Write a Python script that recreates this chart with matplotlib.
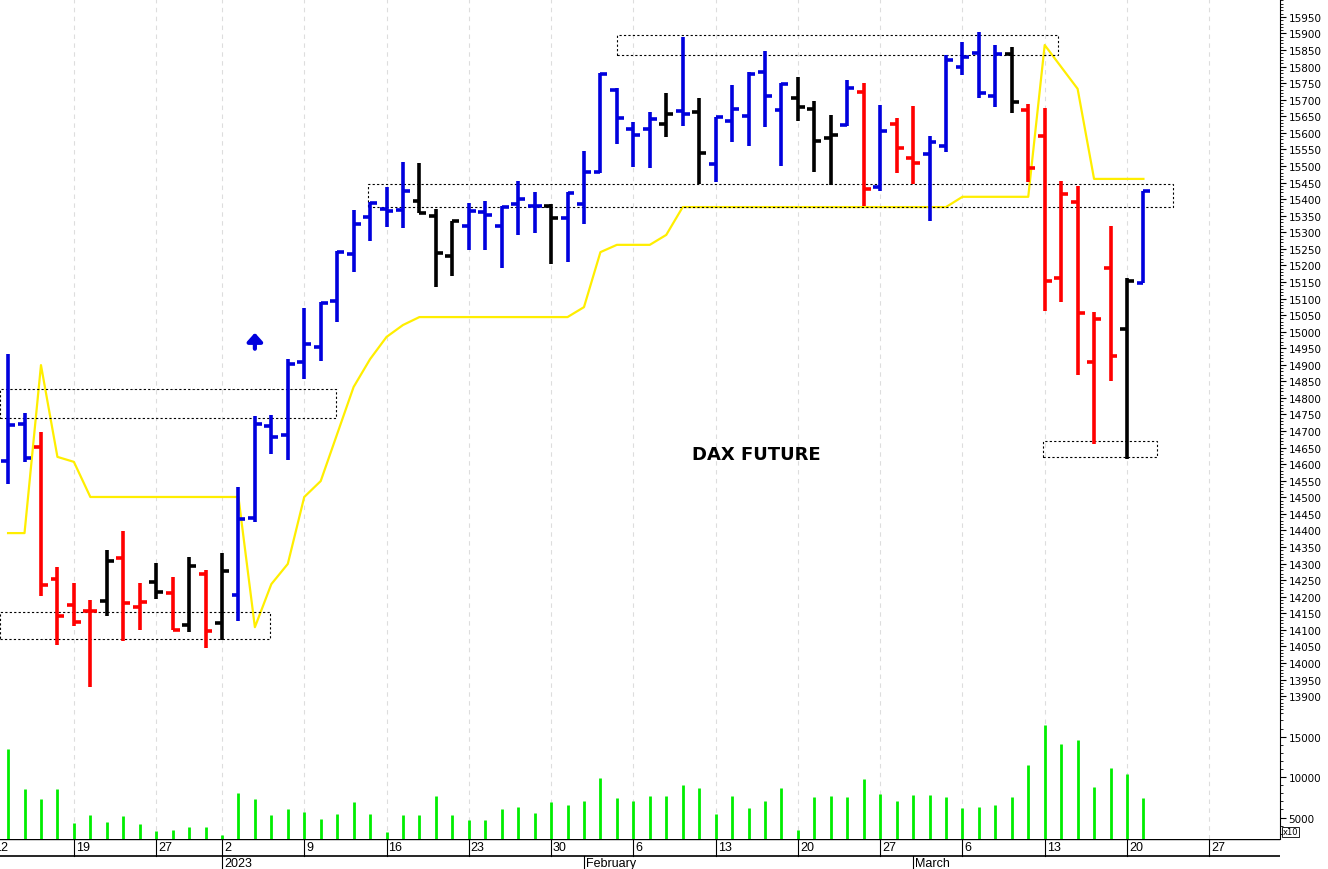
import numpy as np
import matplotlib
matplotlib.use("Agg")
import matplotlib.pyplot as plt
from matplotlib.patches import Rectangle

# daily bars, 13 Dec 2022 .. 21 Mar 2023 (trading-day index 0..69)
opens = [14610, 14721, 14652, 14253, 14175, 14157, 14187, 14317, 14169, 14244,
         14211, 14114, 14269, 14121, 14205, 14437, 14715, 14688, 14908, 14954,
         15093, 15234, 15346, 15370, 15367, 15394, 15349, 15228, 15319, 15361,
         15319, 15385, 15379, 15379, 15343, 15385, 15482, 15730, 15612, 15612,
         15627, 15666, 15663, 15506, 15636, 15651, 15784, 15669, 15705, 15672,
         15585, 15624, 15724, 15437, 15627, 15524, 15536, 15561, 15799, 15841,
         15712, 15838, 15669, 15591, 15162, 15391, 14908, 15192, 15008, 15147]
highs = [14933, 14754, 14697, 14290, 14241, 14190, 14341, 14398, 14241, 14302,
         14259, 14320, 14281, 14332, 14531, 14746, 14748, 14918, 15071, 15089,
         15243, 15367, 15391, 15437, 15512, 15509, 15370, 15334, 15388, 15394,
         15379, 15455, 15422, 15385, 15422, 15545, 15781, 15736, 15633, 15663,
         15721, 15890, 15705, 15648, 15745, 15784, 15847, 15751, 15769, 15696,
         15654, 15760, 15751, 15684, 15645, 15681, 15591, 15835, 15875, 15905,
         15865, 15859, 15687, 15675, 15455, 15440, 15059, 15319, 15162, 15425]
lows = [14540, 14607, 14202, 14054, 14111, 13927, 14142, 14066, 14099, 14193,
        14099, 14093, 14045, 14069, 14127, 14425, 14631, 14613, 14857, 14912,
        15029, 15180, 15274, 15316, 15313, 15358, 15135, 15168, 15247, 15247,
        15192, 15292, 15298, 15204, 15210, 15325, 15479, 15567, 15497, 15494,
        15588, 15621, 15446, 15452, 15573, 15561, 15618, 15500, 15636, 15482,
        15443, 15621, 15379, 15425, 15479, 15446, 15334, 15542, 15775, 15705,
        15678, 15660, 15452, 15062, 15090, 14869, 14661, 14851, 14616, 15147]
closes = [14718, 14619, 14235, 14142, 14124, 14157, 14308, 14181, 14184, 14214,
          14099, 14293, 14096, 14278, 14434, 14721, 14682, 14902, 14963, 15087,
          15240, 15325, 15388, 15364, 15425, 15358, 15237, 15334, 15364, 15352,
          15376, 15400, 15379, 15343, 15419, 15482, 15778, 15645, 15594, 15642,
          15657, 15657, 15539, 15648, 15672, 15778, 15712, 15748, 15678, 15576,
          15594, 15736, 15431, 15606, 15555, 15509, 15573, 15820, 15829, 15721,
          15838, 15693, 15494, 15153, 15416, 15056, 15038, 14927, 15153, 15425]
bar_colors = list("bbrrrrkrrkrkrkbbbbbbbbbbbkkkbbbbbkbbbbbbkbkbbbbbkkkbrbrrbbbbbkrrrrrrkb")
signal = [14392, 14392, 14899, 14622, 14607, 14501, 14501, 14501, 14501, 14501,
          14501, 14501, 14501, 14501, 14501, 14108, 14238, 14299, 14501, 14549,
          14691, 14833, 14917, 14984, 15020, 15044, 15044, 15044, 15044, 15044,
          15044, 15044, 15044, 15044, 15044, 15074, 15240, 15262, 15262, 15262,
          15292, 15376, 15376, 15376, 15376, 15376, 15376, 15376, 15376, 15376,
          15376, 15376, 15376, 15376, 15376, 15376, 15376, 15376, 15407, 15407,
          15407, 15407, 15407, 15865, 15799, 15733, 15461, 15461, 15461, 15461]
volume = [13514, 8494, 7289, 8494, 4277, 5361, 4398, 5201, 4197, 3353,
          3514, 3835, 3835, 2791, 8092, 7289, 5361, 6084, 5683, 4880,
          5482, 6888, 5442, 3193, 5361, 5361, 7610, 5361, 4639, 4719,
          6044, 6285, 5562, 6968, 6566, 7088, 9859, 7369, 7048, 7651,
          7610, 9056, 8695, 5442, 7651, 6165, 7088, 8614, 3514, 7570,
          7610, 7530, 9739, 7892, 7008, 7771, 7771, 7570, 6165, 6325,
          6526, 7490, 11506, 16486, 14076, 14598, 8815, 11144, 10341, 7369]
# (x0, x1, low, high) in trading-day units / price
boxes = [(-0.5, 19.9, 14739, 14827), (-0.5, 15.9, 14072, 14154),
         (21.9, 70.8, 15376, 15446), (37.0, 63.8, 15835, 15896),
         (62.9, 69.8, 14622, 14670)]
week_pos = [-1, 4, 9, 13, 18, 23, 28, 33, 38, 43, 48, 53, 58, 63, 68, 73]
week_lbl = ["12", "19", "27", "2", "9", "16", "23", "30", "6", "13", "20", "27", "6", "13", "20", "27"]
month_pos = [13, 35, 55]
month_lbl = ["2023", "February", "March"]

cmap = {"b": "#0000dd", "r": "#ff0000", "k": "#000000"}
XMIN, XMAX = -0.49, 77.3

fig = plt.figure(figsize=(13.28, 8.70), dpi=100)
axp = fig.add_axes([0, 155 / 870, 1280 / 1328, 715 / 870])
axv = fig.add_axes([0, 30 / 870, 1280 / 1328, 125 / 870])
axd = fig.add_axes([0, 0, 1280 / 1328, 30 / 870])

x = np.arange(len(opens))
cols = [cmap[c] for c in bar_colors]
for ax in (axp, axv):
    for w in week_pos:
        ax.axvline(w, color="#dddddd", lw=0.8, ls=(0, (4, 4)), zorder=0)

axp.plot(x, signal, color="#ffee00", lw=1.6, zorder=1)
axp.vlines(x, lows, highs, colors=cols, lw=2.6, zorder=3)
axp.hlines(opens, x - 0.42, x, colors=cols, lw=2.6, zorder=3)
axp.hlines(closes, x, x + 0.42, colors=cols, lw=2.6, zorder=3)
for x0, x1, lo, hi in boxes:
    axp.add_patch(Rectangle((x0, lo), x1 - x0, hi - lo, fill=False,
                            ls=(0, (2, 2)), lw=0.8, ec="black", zorder=2))
axp.annotate("", xy=(15, 15005), xytext=(15, 14940),
             arrowprops=dict(arrowstyle="-|>,head_width=0.45,head_length=0.5",
                             color="#0000dd", lw=3))
axp.text(45.5, 14631, "DAX FUTURE", fontsize=13, fontweight="bold", ha="center", va="center")

axp.set_xlim(XMIN, XMAX)
axp.set_ylim(13846, 16004)
axp.yaxis.tick_right()
axp.set_yticks(np.arange(13900, 15951, 50))
axp.set_yticks(np.arange(13850, 16001, 10), minor=True)
axp.tick_params(axis="y", labelsize=7.5, length=4, pad=2)
axp.tick_params(axis="y", which="minor", length=2)
axp.set_xticks([])

axv.vlines(x, 0, volume, colors="#00ee00", lw=2.0)
axv.set_xlim(XMIN, XMAX)
axv.set_ylim(2350, 17800)
axv.yaxis.tick_right()
axv.set_yticks([5000, 10000, 15000])
axv.set_yticks(np.arange(3000, 17001, 1000), minor=True)
axv.tick_params(axis="y", labelsize=7.5, length=4, pad=2)
axv.tick_params(axis="y", which="minor", length=2)
axv.set_xticks([])
axv.text(1.002, 0.02, "x10", transform=axv.transAxes, fontsize=6, va="bottom",
         bbox=dict(boxstyle="square,pad=0.1", fc="white", ec="black", lw=0.6))

axd.set_xlim(XMIN, XMAX)
axd.set_ylim(0, 1)
axd.axis("off")
axd.axhline(1, color="black", lw=1)
axd.axhline(0.45, color="black", lw=1.2)
for p, l in zip(week_pos, week_lbl):
    axd.plot([p, p], [0.45, 1], color="black", lw=0.8, clip_on=True)
    axd.text(p + 0.12, 0.72, l, fontsize=9, va="center", ha="left",
             family="Liberation Sans", clip_on=True)
for p, l in zip(month_pos, month_lbl):
    axd.plot([p, p], [0, 0.45], color="black", lw=0.8)
    axd.text(p + 0.12, 0.2, l, fontsize=9, va="center", ha="left",
             family="Liberation Sans")

for ax in (axp, axv):
    for s in ("top", "left", "bottom"):
        ax.spines[s].set_visible(False)

fig.savefig("out.png", dpi=100)
